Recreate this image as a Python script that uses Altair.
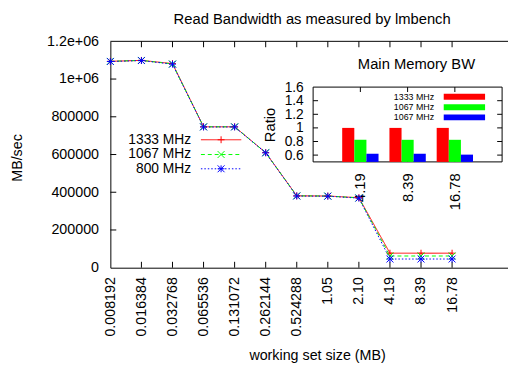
import json
import altair as alt
import pandas as pd

# ---------------- data ----------------
sizes = ["0.008192", "0.016384", "0.032768", "0.065536", "0.131072", "0.262144",
         "0.524288", "1.05", "2.10", "4.19", "8.39", "16.78"]
series = ["1333 MHz", "1067 MHz", "800 MHz"]
bw_1333 = [1094000, 1099000, 1082000, 747000, 747000, 610000, 381000, 380000, 371000, 77000, 77000, 77000]
bw_1067 = [1094000, 1099000, 1080000, 747000, 747000, 610000, 381000, 380000, 370000, 62000, 62000, 62000]
bw_800 = [1093000, 1098000, 1079000, 746000, 746000, 609000, 380000, 379000, 369000, 46000, 46000, 46000]
y_ticks = [0, 200000, 400000, 600000, 800000, 1000000, 1200000]
y_tick_labels = ["0", "200000", "400000", "600000", "800000", "1e+06", "1.2e+06"]

inset_cats = ["4.19", "8.39", "16.78"]
inset_key_labels = ["1333 MHz", "1067 MHz", "1067 MHz"]
ratio_1333 = [1.0, 1.0, 1.0]
ratio_1067 = [0.825, 0.825, 0.825]
ratio_800 = [0.62, 0.62, 0.607]
inset_y_ticks = [0.6, 0.8, 1.0, 1.2, 1.4, 1.6]

colors = ["#ff0000", "#00ff00", "#0000ff"]
dashes = [[1, 0], [4, 3], [1.5, 2]]
shapes = ["M-1,0L1,0M0,-1L0,1",
          "M-1,-1L1,1M-1,1L1,-1",
          "M-1,0L1,0M0,-1L0,1M-1,-1L1,1M-1,1L1,-1"]

F = "Liberation Sans"
W, H = 404, 230

# ---------------- tables ----------------
rows = []
for s, vals in zip(series, [bw_1333, bw_1067, bw_800]):
    for i, v in enumerate(vals):
        rows.append({"i": i, "v": v, "s": s})
df = pd.DataFrame(rows)
idx_df = pd.DataFrame({"i": list(range(1, len(sizes)))})
ytick_df = pd.DataFrame({"v": y_ticks[1:-1]})
one = pd.DataFrame({"a": [0]})

bars = []
for s, vals in zip(series, [ratio_1333, ratio_1067, ratio_800]):
    for c, r in zip(inset_cats, vals):
        bars.append({"cat": c, "s": s, "r": r})
bar_df = pd.DataFrame(bars)
cat_df = pd.DataFrame({"cat": inset_cats})
iytick_df = pd.DataFrame({"r": inset_y_ticks[:-1]})

# ---------------- main scales ----------------
main_x_axis = alt.Axis(values=list(range(len(sizes))),
                       labelExpr=f"{json.dumps(sizes)}[datum.value]",
                       labelAngle=-90, labelPadding=9, labelFontSize=14.5,
                       labelFlush=False, labelOverlap=False,
                       ticks=False, tickSize=0, grid=False,
                       domainColor="black", domainWidth=1,
                       title="working set size (MB)", titleFontSize=14.5,
                       titleFontWeight="normal", titleX=210, titleY=89,
                       titleAlign="center", titleBaseline="middle")
main_y_axis = alt.Axis(values=y_ticks,
                       labelExpr=f"{json.dumps(y_tick_labels)}[round(datum.value/200000)]",
                       labelPadding=12, labelFontSize=14.5, labelFlush=False,
                       labelOverlap=False, ticks=False, tickSize=0, grid=False,
                       domainColor="black", domainWidth=1,
                       title="MB/sec", titleFontSize=14.5, titleFontWeight="normal",
                       titleAngle=270, titleX=-94, titleY=118,
                       titleAlign="center", titleBaseline="middle")


def mx(field="i"):
    return alt.X(f"{field}:Q", scale=alt.Scale(domain=[0, 12.8], nice=False, zero=False),
                 axis=main_x_axis)


def my(field="v"):
    return alt.Y(f"{field}:Q", scale=alt.Scale(domain=[0, 1200000], nice=False, zero=False),
                 axis=main_y_axis)


color = alt.Color("s:N", scale=alt.Scale(domain=series, range=colors), legend=None)

main_layers = []
main_layers.append(alt.Chart(one).mark_rule(color="black").encode(
    x=alt.value(0), x2=alt.value(W + 20), y=alt.value(0)))
main_layers.append(alt.Chart(idx_df).mark_rule(color="black").encode(
    x=mx(), y=alt.value(0), y2=alt.value(6)))
main_layers.append(alt.Chart(idx_df).mark_rule(color="black").encode(
    x=mx(), y=alt.value(H - 6), y2=alt.value(H)))
main_layers.append(alt.Chart(ytick_df).mark_rule(color="black").encode(
    y=my(), x=alt.value(0), x2=alt.value(6)))
main_layers.append(alt.Chart(df).mark_line(strokeWidth=1).encode(
    x=mx(), y=my(), color=color,
    strokeDash=alt.StrokeDash("s:N", scale=alt.Scale(domain=series, range=dashes), legend=None),
    order="i:Q"))
main_layers.append(alt.Chart(df).mark_point(filled=False, size=49, strokeWidth=1, opacity=1).encode(
    x=mx(), y=my(), color=color,
    shape=alt.Shape("s:N", scale=alt.Scale(domain=series, range=shapes), legend=None)))

# main key (text left of sample)
key_y = [100, 115, 129.5]
for k in range(3):
    main_layers.append(alt.Chart(one).mark_text(align="right", baseline="middle", fontSize=14,
                                                font=F, color="black").encode(
        x=alt.value(82), y=alt.value(key_y[k]), text=alt.value(series[k])))
    main_layers.append(alt.Chart(one).mark_rule(color=colors[k], strokeDash=dashes[k],
                                                strokeWidth=1).encode(
        x=alt.value(92), x2=alt.value(133), y=alt.value(key_y[k])))
    main_layers.append(alt.Chart(one).mark_point(shape=shapes[k], size=49, filled=False,
                                                 color=colors[k], strokeWidth=1, opacity=1).encode(
        x=alt.value(112.5), y=alt.value(key_y[k])))

# titles
main_layers.append(alt.Chart(one).mark_text(align="center", baseline="middle", fontSize=15,
                                            font=F, color="black").encode(
    x=alt.value(205), y=alt.value(-23), text=alt.value("Read Bandwidth as measured by lmbench")))
main_layers.append(alt.Chart(one).mark_text(align="center", baseline="middle", fontSize=15,
                                            font=F, color="black").encode(
    x=alt.value(311), y=alt.value(23), text=alt.value("Main Memory BW")))

main = alt.layer(*main_layers)

# ---------------- inset ----------------
IX0, IX1, IY0, IY1 = 206, 398, 46.5, 122.5
inset_x_axis = alt.Axis(orient="bottom", offset=-(H - IY1), labelAngle=-90, labelPadding=11,
                        labelFontSize=15, labelOverlap=False, ticks=False, tickSize=0,
                        domain=False, grid=False, title=None)
inset_y_axis = alt.Axis(orient="left", offset=-IX0, values=inset_y_ticks,
                        labelExpr="format(datum.value, '.1~f')", labelPadding=10,
                        labelFontSize=14, labelFlush=False, labelOverlap=False,
                        ticks=False, tickSize=0, domain=False, grid=False,
                        title="Ratio", titleFontSize=15, titleFontWeight="normal", titlePadding=7)


def ix(**kw):
    return alt.X("cat:N", sort=inset_cats,
                 scale=alt.Scale(domain=inset_cats, range=[IX0, IX1], paddingInner=0, paddingOuter=0.5),
                 axis=inset_x_axis, **kw)


def iy():
    return alt.Y("r:Q", scale=alt.Scale(domain=[0.5, 1.6], range=[IY1, IY0], nice=False, zero=False),
                 axis=inset_y_axis)


inset_layers = []
inset_layers.append(alt.Chart(one).mark_rect(fill="white", stroke="black", strokeWidth=1).encode(
    x=alt.value(IX0), x2=alt.value(IX1), y=alt.value(IY0), y2=alt.value(IY1)))
inset_layers.append(alt.Chart(cat_df).mark_rule(color="black").encode(
    x=ix(bandPosition=0.5), y=alt.value(IY0), y2=alt.value(IY0 + 5)))
inset_layers.append(alt.Chart(cat_df).mark_rule(color="black").encode(
    x=ix(bandPosition=0.5), y=alt.value(IY1 - 5), y2=alt.value(IY1)))
inset_layers.append(alt.Chart(iytick_df).mark_rule(color="black").encode(
    y=iy(), x=alt.value(IX0), x2=alt.value(IX0 + 5)))
inset_layers.append(alt.Chart(iytick_df).mark_rule(color="black").encode(
    y=iy(), x=alt.value(IX1 - 5), x2=alt.value(IX1)))
inset_layers.append(alt.Chart(bar_df).mark_bar().encode(
    x=ix(),
    xOffset=alt.XOffset("s:N", sort=series,
                        scale=alt.Scale(domain=series, paddingInner=0, paddingOuter=0.45)),
    y=iy(), y2=alt.datum(0.5), color=color))

# inset key
ikey_y = [56.3, 67, 77.3]
for k in range(3):
    inset_layers.append(alt.Chart(one).mark_text(align="right", baseline="middle", fontSize=9,
                                                 font=F, color="black").encode(
        x=alt.value(329), y=alt.value(ikey_y[k]), text=alt.value(inset_key_labels[k])))
    inset_layers.append(alt.Chart(one).mark_rect(color=colors[k]).encode(
        x=alt.value(338.7), x2=alt.value(380.7),
        y=alt.value(ikey_y[k] - 3), y2=alt.value(ikey_y[k] + 3)))

inset = alt.layer(*inset_layers)

chart = alt.layer(main, inset).resolve_scale(x="independent", y="independent").properties(
    width=W, height=H,
    padding={"left": 104, "top": 31, "right": 0, "bottom": 97},
    autosize=alt.AutoSizeParams(type="none"),
).configure_view(strokeWidth=0).configure_axis(
    labelFont=F, titleFont=F, labelColor="black", titleColor="black")

chart.save("out.html", embed_options={"renderer": "svg", "actions": False})
